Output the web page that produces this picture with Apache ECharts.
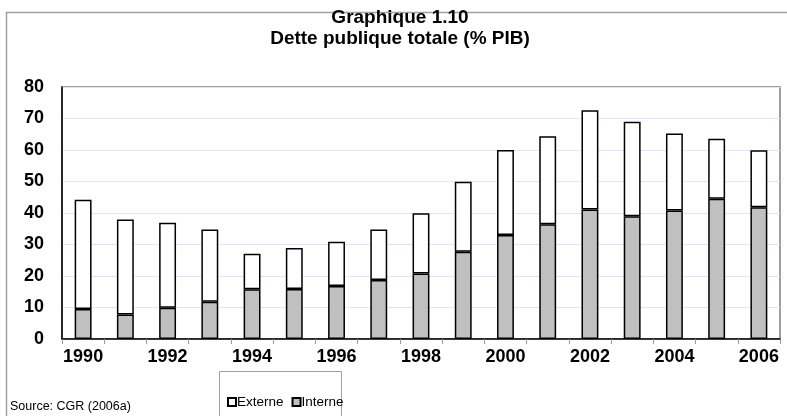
<!DOCTYPE html>
<html>
<head>
<meta charset="utf-8">
<script src="https://cdn.jsdelivr.net/npm/echarts@6/dist/echarts.min.js"></script>
<style>
html,body{margin:0;padding:0;background:#fff;}
#chart{width:787px;height:416px;}
</style>
</head>
<body>
<div id="chart"></div>
<script>
var years = ['1990','1991','1992','1993','1994','1995','1996','1997','1998','1999','2000','2001','2002','2003','2004','2005','2006'];
var interne = [9.5,7.8,9.9,11.8,15.8,15.9,16.8,18.7,20.8,27.7,33,36.4,41.1,39,40.8,44.5,41.8];
var externe = [34.7,30.1,27,23,11.3,13,14.1,16.1,19.1,22.2,27,28,31.5,30,24.4,19.1,18.1];
var yTicks = [0,10,20,30,40,50,60,70,80];
var titleLines = ['Graphique 1.10','Dette publique totale (% PIB)'];
var sourceText = 'Source: CGR (2006a)';

var FONT = '"Liberation Sans", Arial, sans-serif';
var chart = echarts.init(document.getElementById('chart'), null, {renderer:'canvas'});
chart.setOption({
  backgroundColor:'#ffffff',
  animation:false,
  title:{
    text: titleLines.join('\n'),
    left: 395, top: 2, textAlign:'center',
    textStyle:{fontFamily:FONT, fontWeight:'bold', fontSize:19, color:'#000', lineHeight:21}
  },
  legend:{
    data:['Externe','Interne'],
    left: 222, top: 390,
    icon:'rect', itemWidth:8, itemHeight:8, itemGap:8,
    textStyle:{fontFamily:FONT, fontSize:13.5, color:'#000', padding:[0,0,0,-4]},
    selectedMode:false
  },
  grid:{left:62, right:7, top:87, bottom:77, show:true, borderColor:'#808080', borderWidth:1.5},
  xAxis:{
    type:'category', data:years, boundaryGap:true,
    axisLine:{show:true, lineStyle:{color:'#000', width:1.5}},
    axisTick:{show:true, alignWithLabel:false, interval:0, length:5, inside:false, lineStyle:{color:'#999'}},
    axisLabel:{interval:1, margin:9, color:'#000', fontFamily:FONT, fontWeight:'bold', fontSize:18}
  },
  yAxis:{
    type:'value', min:yTicks[0], max:yTicks[yTicks.length-1], interval:10,
    axisLine:{show:true, lineStyle:{color:'#000', width:1.5}},
    axisTick:{show:false},
    axisLabel:{margin:18, color:'#000', fontFamily:FONT, fontWeight:'bold', fontSize:18},
    splitLine:{show:true, lineStyle:{color:'#e4e4f8', width:1}}
  },
  series:[
    {name:'Interne', type:'bar', stack:'t', data:interne, barWidth:'40%',
     itemStyle:{color:'#c0c0c0', borderColor:'#000', borderWidth:1.5}},
    {name:'Externe', type:'bar', stack:'t', data:externe, barWidth:'40%',
     itemStyle:{color:'#ffffff', borderColor:'#000', borderWidth:1.5}}
  ],
  graphic:[
    {type:'rect', shape:{x:6.5, y:12.5, width:800, height:420}, style:{fill:'none', stroke:'#a0a0a0', lineWidth:1.5}, z:-1},
    {type:'rect', shape:{x:219.5, y:371.5, width:122, height:60}, style:{fill:'none', stroke:'#a0a0a0', lineWidth:1}, z:-1},
    {type:'text', left:10, top:400, style:{text:sourceText, font:'12.5px "Liberation Sans", Arial, sans-serif', fill:'#000'}}
  ]
});
</script>
</body>
</html>
